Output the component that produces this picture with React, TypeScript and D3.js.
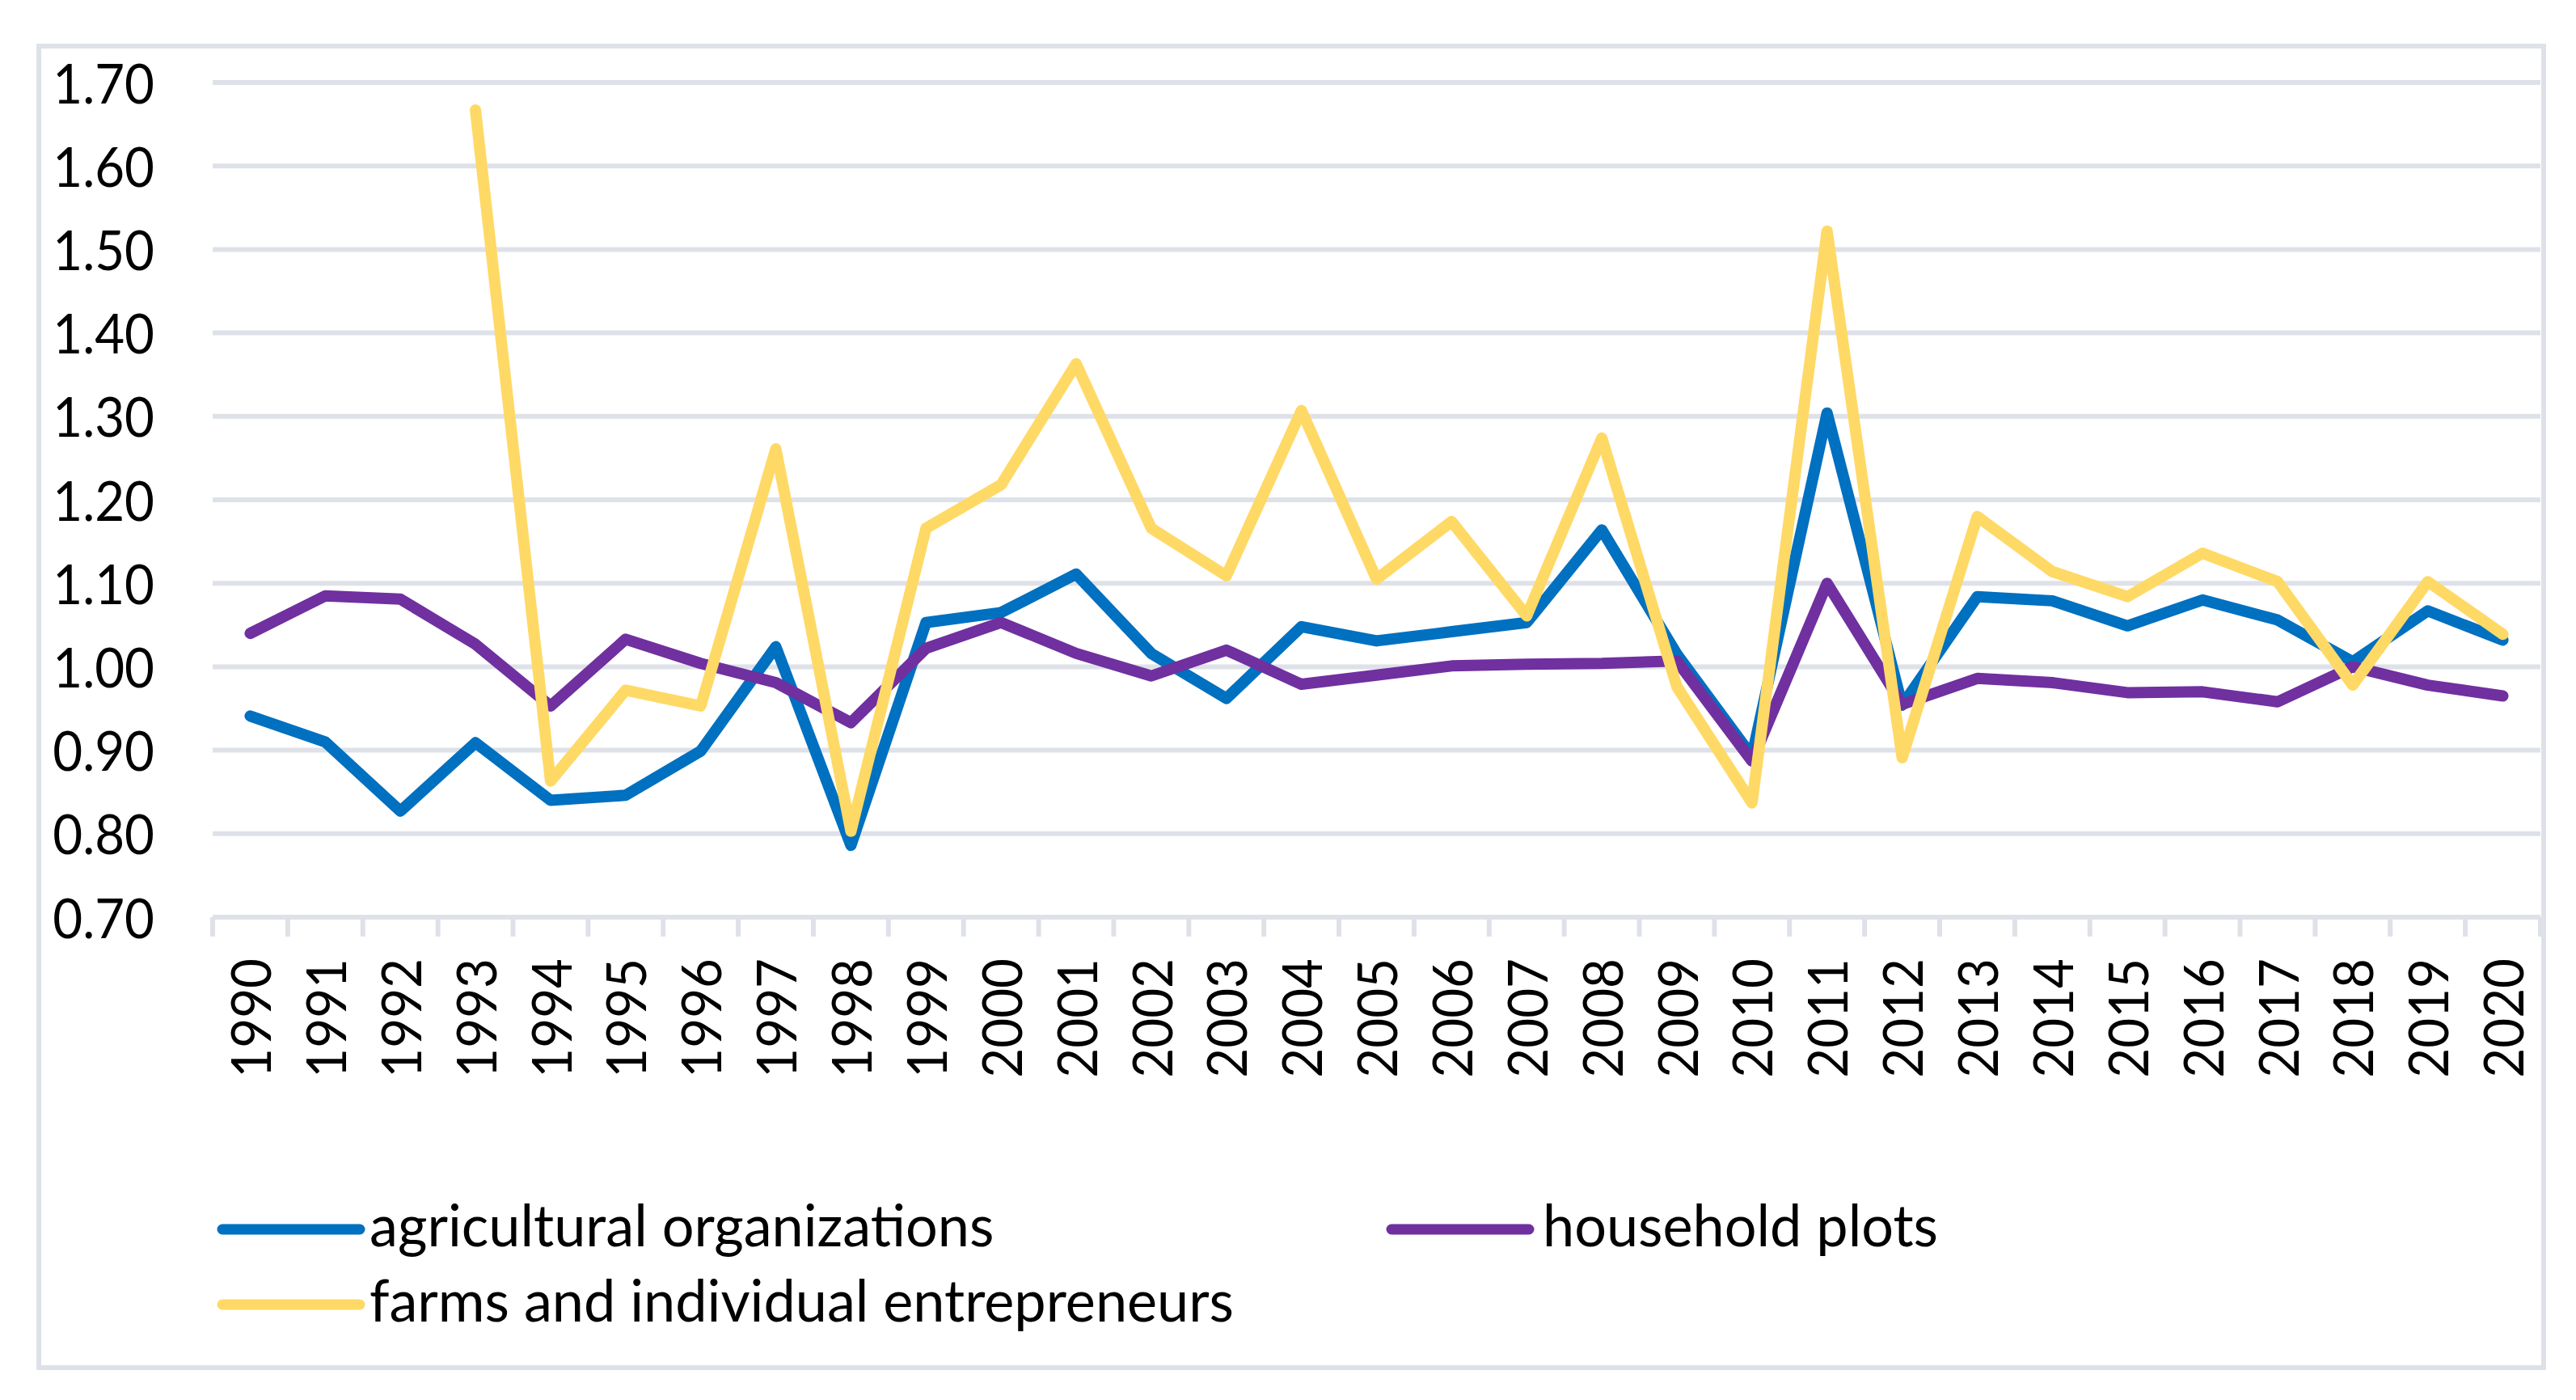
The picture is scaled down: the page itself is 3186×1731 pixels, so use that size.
import * as d3 from 'd3'

const years = [
  '1990', '1991', '1992', '1993', '1994', '1995', '1996', '1997', '1998', '1999',
  '2000', '2001', '2002', '2003', '2004', '2005', '2006', '2007', '2008', '2009',
  '2010', '2011', '2012', '2013', '2014', '2015', '2016', '2017', '2018', '2019', '2020',
]

const agricultural = [
  0.941, 0.91, 0.827, 0.909, 0.84, 0.846, 0.899, 1.024, 0.786, 1.053,
  1.065, 1.111, 1.016, 0.962, 1.048, 1.031, 1.042, 1.053, 1.164, 1.015,
  0.893, 1.304, 0.954, 1.084, 1.079, 1.049, 1.08, 1.056, 1.006, 1.067, 1.032,
]

const household = [
  1.04, 1.085, 1.081, 1.027, 0.953, 1.033, 1.004, 0.981, 0.933, 1.022,
  1.053, 1.016, 0.989, 1.02, 0.979, 0.99, 1.001, 1.003, 1.004, 1.007,
  0.887, 1.1, 0.955, 0.986, 0.981, 0.969, 0.97, 0.958, 1.0, 0.978, 0.965,
]

const farms: (number | null)[] = [
  null, null, null, 1.667, 0.863, 0.972, 0.953, 1.261, 0.803, 1.166,
  1.218, 1.363, 1.166, 1.109, 1.307, 1.105, 1.174, 1.061, 1.274, 0.976,
  0.837, 1.522, 0.891, 1.18, 1.114, 1.084, 1.136, 1.102, 0.978, 1.102, 1.039,
]

const yTicks = [0.7, 0.8, 0.9, 1.0, 1.1, 1.2, 1.3, 1.4, 1.5, 1.6, 1.7]

const series = [
  { name: 'agricultural organizations', values: agricultural, color: '#0070C0' },
  { name: 'household plots', values: household, color: '#7030A0' },
  { name: 'farms and individual entrepreneurs', values: farms, color: '#FFD966' },
]

const W = 3186
const H = 1731
const left = 263
const right = 3142
const top = 102
const bottom = 1134
const grid = '#dee2e8'
const font = 'Lato, "Noto Sans", sans-serif'
const fs = 67
const squeeze = 0.95
const legendFs = 72
const legendSqueeze = 0.975

export default function App() {
  const x = d3.scaleBand<string>().domain(years).range([left, right])
  const y = d3.scaleLinear().domain([0.7, 1.7]).range([bottom, top])
  const cx = (i: number) => (x(years[i]) as number) + x.bandwidth() / 2

  const line = d3
    .line<number | null>()
    .defined((d) => d != null)
    .x((_, i) => cx(i))
    .y((d) => y(d as number))

  const tickXs = years.map((yr) => x(yr) as number).concat([right])

  const legend = [
    { s: series[0], lx: 275, tx: 457, ly: 1520 },
    { s: series[1], lx: 1721, tx: 1908, ly: 1520 },
    { s: series[2], lx: 275, tx: 457, ly: 1613 },
  ]

  return (
    <div style={{ position: 'absolute', left: 0, top: 0 }}>
      <svg width={W} height={H} style={{ display: 'block', background: '#fff' }}>
        <rect x={48} y={57} width={3098} height={1634} fill="#fff" stroke={grid} strokeWidth={6} />

        {yTicks.map((t) => (
          <line key={t} x1={left} x2={right} y1={y(t)} y2={y(t)} stroke={grid} strokeWidth={6} />
        ))}
        {tickXs.map((tx, i) => (
          <line key={i} x1={tx} x2={tx} y1={bottom} y2={1158} stroke={grid} strokeWidth={6} />
        ))}

        {yTicks.map((t) => (
          <text
            key={t}
            transform={`translate(191,${y(t)}) scale(${squeeze},1)`}
            textAnchor="end"
            dominantBaseline="central"
            fontFamily={font}
            fontSize={fs}
            fill="#000"
          >
            {d3.format('.2f')(t)}
          </text>
        ))}

        {years.map((yr, i) => (
          <text
            key={yr}
            transform={`translate(${cx(i)},1185) rotate(-90) scale(${squeeze},1)`}
            textAnchor="end"
            dominantBaseline="central"
            fontFamily={font}
            fontSize={fs}
            fill="#000"
          >
            {yr}
          </text>
        ))}

        {series.map((s) => (
          <path
            key={s.name}
            d={line(s.values) ?? ''}
            fill="none"
            stroke={s.color}
            strokeWidth={14}
            strokeLinejoin="round"
            strokeLinecap="round"
          />
        ))}

        {legend.map(({ s, lx, tx, ly }) => (
          <g key={s.name}>
            <line x1={lx} x2={lx + 170} y1={ly} y2={ly} stroke={s.color} strokeWidth={13} strokeLinecap="round" />
            <text
              transform={`translate(${tx},${ly + 21}) scale(${legendSqueeze},1)`}
              fontFamily={font}
              fontSize={legendFs}
              fill="#000"
            >
              {s.name}
            </text>
          </g>
        ))}
      </svg>
    </div>
  )
}
